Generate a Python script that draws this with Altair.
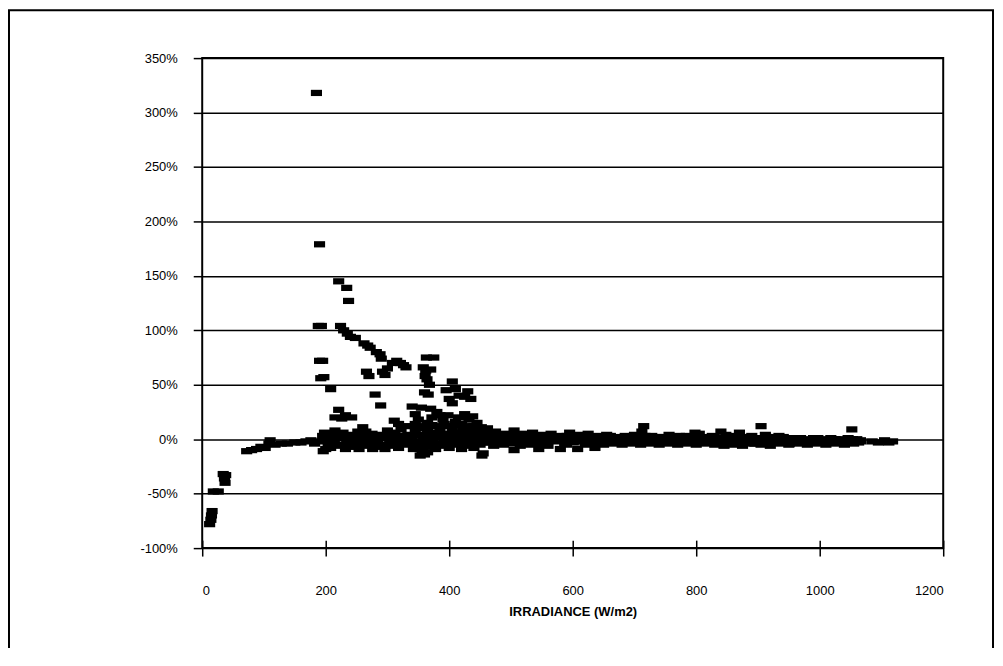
import altair as alt
import pandas as pd

# (irradiance W/m2, deviation %), grouped by region
low_irr = [(12, -78), (14, -74), (15, -70), (16, -66), (18, -48), (26, -48),
           (34, -32), (36, -36), (37, -40), (38, -33),
           (72, -11), (80, -10), (88, -9), (95, -7), (102, -8), (108, -4),
           (110, -1), (118, -5), (128, -4), (138, -4), (150, -3), (160, -3),
           (168, -2), (176, -1), (182, -4), (190, -2), (195, 3), (198, 6),
           (200, -9), (196, -11), (204, 1)]

upper_branch = [(185, 318), (190, 179), (188, 104), (193, 104), (190, 72), (195, 72),
                (192, 56), (197, 57), (208, 46), (221, 145), (234, 139), (237, 127),
                (224, 104), (229, 100), (235, 97), (240, 94), (248, 93), (262, 88),
                (268, 86), (272, 84), (282, 80), (288, 78), (290, 74), (266, 62),
                (270, 58), (292, 62), (296, 59), (300, 65), (308, 70), (315, 72),
                (321, 70), (326, 68), (330, 66), (363, 75), (375, 75), (358, 66),
                (362, 63), (370, 64), (361, 58), (364, 55), (368, 50), (405, 53),
                (410, 46), (416, 40), (425, 39), (435, 37), (430, 44), (280, 41),
                (289, 31), (360, 43), (366, 41), (395, 45), (400, 37), (405, 33),
                (340, 30), (355, 29), (370, 28), (380, 25), (345, 23),
                (221, 27), (215, 20), (226, 19), (232, 22), (242, 20), (260, 11),
                (265, 7), (311, 17), (318, 14), (390, 18), (398, 22), (410, 16),
                (420, 14), (432, 18), (440, 12), (445, 15)]

mid_band = [(205, 5), (215, 8), (228, 6), (240, 4), (252, 7), (262, 3), (275, 5),
            (288, 4), (300, 8), (312, 6), (322, 9), (333, 4), (345, 7), (352, 10),
            (365, 8), (375, 6), (385, 9), (395, 5), (405, 8), (415, 6), (425, 9),
            (436, 7), (446, 5), (458, 8),
            (202, 0), (212, -1), (224, 1), (236, -1), (246, 0), (258, -2), (268, 0),
            (280, -1), (292, 1), (304, 0), (316, -1), (326, 1), (338, 0), (348, -2),
            (358, 1), (370, -1), (380, 2), (392, 0), (402, -1), (412, 1), (422, 0),
            (432, -2), (442, 1), (452, 0),
            (208, -8), (218, -6), (232, -9), (244, -7), (254, -9), (266, -6),
            (276, -9), (286, -7), (296, -9), (306, -6), (318, -8), (330, -4),
            (342, -9), (356, -10), (368, -7), (378, -9), (388, -6), (400, -8),
            (410, -5), (420, -9), (430, -6), (440, -8), (450, -5),
            (353, -15), (360, -14), (365, -12), (453, -15), (455, -13)]

mid_fill = [(200, 3), (210, 2), (220, 3), (230, 2), (240, 1), (250, 3), (260, 2),
            (270, 2), (280, 3), (290, 2), (300, 3), (310, 2), (320, 3), (330, 2),
            (340, 3), (350, 4), (360, 3), (370, 4), (380, 5), (390, 3), (400, 4),
            (410, 3), (420, 4), (430, 3), (440, 4), (450, 3),
            (204, -4), (214, -3), (224, -5), (234, -4), (244, -3), (254, -5),
            (264, -3), (274, -4), (284, -3), (294, -5), (304, -3), (314, -4),
            (324, -3), (334, -5), (344, -4), (354, -5), (364, -4), (374, -3),
            (384, -4), (394, -3), (404, -4), (414, -3), (424, -4), (434, -3),
            (444, -4), (454, -3),
            (335, 12), (345, 14), (355, 12), (365, 15), (372, 13), (382, 12),
            (392, 14), (402, 12), (412, 13), (422, 11), (432, 12), (442, 10),
            (452, 11),
            (350, 18), (372, 20), (385, 22), (415, 20), (425, 23), (438, 21)]

high_band = [(462, 10), (475, 7), (490, 5), (505, 8), (520, 5), (535, 6), (550, 4),
             (565, 5), (580, 3), (595, 6), (610, 4), (625, 5), (640, 3), (655, 4),
             (670, 2), (685, 3), (700, 4), (715, 12), (712, 7), (728, 3), (742, 2),
             (756, 4), (770, 2), (784, 3), (798, 6), (805, 5), (812, 2), (826, 3),
             (840, 7), (848, 4), (862, 3), (870, 6), (876, 2), (890, 3), (905, 12),
             (912, 4), (920, 2), (934, 3), (948, 1), (962, 1), (976, 0), (990, 1),
             (1004, 0), (1018, 1), (1032, 0), (1046, 1), (1052, 9), (1060, 0),
             (468, 0), (482, -1), (496, 0), (510, -2), (524, 0), (538, -1), (552, 0),
             (566, -1), (580, 0), (594, -2), (608, 0), (622, -1), (636, 0), (650, -1),
             (664, 0), (678, -1), (692, 0), (706, -1), (720, 0), (734, -2), (748, 0),
             (762, -1), (776, 0), (790, -1), (804, 0), (818, -2), (832, 0), (846, -1),
             (860, 0), (874, -2), (888, 0), (902, -1), (916, 0), (930, -2), (944, -1),
             (958, -1), (972, -2), (986, -1), (1000, -2), (1014, -1), (1028, -2),
             (1042, -1), (1056, -2), (1066, -1),
             (472, -6), (488, -5), (505, -10), (515, -6), (530, -5), (545, -9),
             (560, -6), (580, -9), (590, -5), (608, -9), (620, -5), (636, -8),
             (650, -5), (665, -4), (680, -5), (695, -4), (710, -5), (725, -4),
             (740, -5), (755, -4), (770, -5), (785, -3), (800, -5), (815, -4),
             (830, -5), (845, -6), (860, -5), (875, -6), (890, -4), (905, -5),
             (920, -6), (935, -4), (950, -5), (965, -4), (980, -5), (995, -4),
             (1010, -5), (1025, -4), (1040, -5), (1055, -4)]

high_fill = [(465, 3), (479, 4), (493, 2), (507, 3), (521, 2), (535, 3), (549, 1),
             (563, 3), (577, 2), (591, 3), (605, 1), (619, 2), (633, 2), (647, 1),
             (661, 3), (675, 1), (689, 2), (703, 1), (717, 3), (731, 1), (745, 2),
             (759, 1), (773, 3), (787, 1), (801, 2), (815, 1), (829, 2), (843, 1),
             (857, 2), (871, 1), (885, 2), (899, 1), (913, 2), (927, 1), (941, 2),
             (955, 0), (969, 1), (983, -1), (997, 1), (1011, -1), (1025, 0),
             (1039, -1), (1053, 0), (1067, -2),
             (461, -3), (475, -2), (489, -3), (503, -4), (517, -3), (531, -2),
             (545, -4), (559, -3), (573, -2), (587, -4), (601, -3), (615, -2),
             (629, -4), (643, -3), (657, -2), (671, -3), (685, -2), (699, -3),
             (713, -2), (727, -3), (741, -2), (755, -3), (769, -2), (783, -4),
             (797, -3), (811, -2), (825, -3), (839, -4), (853, -3), (867, -2),
             (881, -3), (895, -4), (909, -3), (923, -2), (937, -3), (951, -4),
             (965, -3), (979, -2), (993, -3), (1007, -2), (1021, -3), (1035, -2),
             (1049, -3), (1063, -3)]

tail = [(1085, -2), (1095, -3), (1105, -1), (1112, -3), (1118, -2)]

x_ticks = [0, 200, 400, 600, 800, 1000, 1200]
y_ticks = [-100, -50, 0, 50, 100, 150, 200, 250, 300, 350]

rows = []
for seg in (low_irr, upper_branch, mid_band, mid_fill, high_band, high_fill, tail):
    rows.extend(seg)
df = pd.DataFrame(rows, columns=["irr", "dev"])

FONT = "Liberation Sans"

points = alt.Chart(df).mark_point(
    shape="M-1,-0.56L1,-0.56L1,0.56L-1,0.56Z",
    size=125, filled=True, color="black", opacity=1, strokeWidth=0,
).encode(
    x=alt.X("irr:Q",
            scale=alt.Scale(domain=[0, 1200], nice=False, zero=False),
            axis=alt.Axis(values=x_ticks, format="d", title="IRRADIANCE (W/m2)",
                          grid=False, domain=False, tickSize=16, offset=-8,
                          tickColor="black", tickWidth=1.5, labelPadding=29,
                          labelFontSize=13, labelFont=FONT, labelColor="black",
                          titleFont=FONT, titleFontSize=13, titleFontWeight="bold",
                          titleColor="black", titlePadding=8)),
    y=alt.Y("dev:Q",
            scale=alt.Scale(domain=[-100, 350], nice=False, zero=False),
            axis=alt.Axis(values=y_ticks, labelExpr="datum.value + '%'", title=None,
                          grid=True, gridColor="black", gridWidth=1.5, gridOpacity=1,
                          domain=False, tickSize=9, tickColor="black", tickWidth=1.5,
                          labelPadding=16, labelFontSize=13, labelFont=FONT,
                          labelColor="black")),
)

frame = alt.Chart(pd.DataFrame({"a": [0]})).mark_rect(
    fill=None, stroke="black", strokeWidth=2
).encode(
    x=alt.value(-194), x2=alt.value(794), y=alt.value(-48), y2=alt.value(700)
)

chart = alt.layer(points, frame).properties(
    width=744, height=492,
    autosize=alt.AutoSizeParams(type="none"),
    padding={"left": 195, "top": 49, "right": 52, "bottom": 99},
).configure_view(stroke="black", strokeWidth=2)

chart.save("out.html", embed_options={"renderer": "svg", "actions": False})
